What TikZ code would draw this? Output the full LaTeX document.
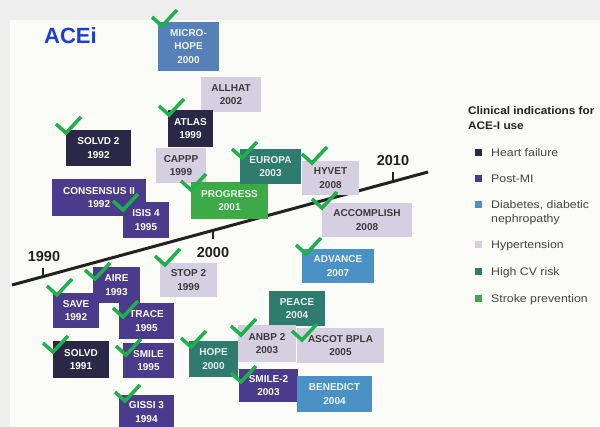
\documentclass[tikz,border=0pt]{standalone}
\usepackage{fontspec}
\setmainfont{Liberation Sans}
\newfontfamily\legfont[FakeStretch=1.12]{Liberation Sans}
\newfontfamily\legtitlefont[FakeStretch=1.07]{Liberation Sans}
\usetikzlibrary{calc}
\definecolor{hfc}{HTML}{2B2746}
\definecolor{mic}{HTML}{4A3B8C}
\definecolor{dbc}{HTML}{4A92C6}
\definecolor{mhc}{HTML}{5580B8}
\definecolor{htc}{HTML}{D6CFE1}
\definecolor{cvc}{HTML}{2F7B6E}
\definecolor{stc}{HTML}{3BAA47}
\definecolor{ckc}{HTML}{1EB04A}
\definecolor{bgc}{HTML}{FBFBF8}
\definecolor{outc}{HTML}{EEEEEE}
\definecolor{acec}{HTML}{1B3FD6}
\definecolor{darktxt}{HTML}{3A3A3A}
\definecolor{linec}{HTML}{222222}
\definecolor{legtxt}{HTML}{444444}
\begin{document}
\begin{tikzpicture}[x=1pt,y=-1pt,
  trial/.style={rectangle, inner sep=0pt, align=center, font=\bfseries\fontsize{10}{13.5}\selectfont},
  sz/.style 2 args={minimum width=#1pt, minimum height=#2pt},
  hf/.style={trial, fill=hfc, text=white},
  mi/.style={trial, fill=mic, text=white},
  db/.style={trial, fill=dbc, text=white!92!dbc},
  mh/.style={trial, fill=mhc, text=white!92!mhc},
  ht/.style={trial, fill=htc, text=darktxt},
  cv/.style={trial, fill=cvc, text=white!90!cvc},
  st/.style={trial, fill=stc, text=white!92!stc},
  tline/.style={draw=linec, line width=3pt},
  tickmark/.style={draw=linec, line width=2pt},
  yr/.style={font=\bfseries\fontsize{14.5}{16}\selectfont, text=linec, inner sep=0pt},
  chkline/.style={draw=ckc, line width=3.5pt, line join=miter},
  chk/.pic={\draw[chkline] (-10,-9) -- (0,0) -- (15,-16);},
  lsq/.style={rectangle, inner sep=0pt, minimum size=7pt},
  ltxt/.style={anchor=base west, inner sep=0pt, text=legtxt, font=\legfont\fontsize{11}{14}\selectfont, align=left},
  ltitle/.style={anchor=base west, inner sep=0pt, text=linec, font=\legtitlefont\bfseries\fontsize{11}{14}\selectfont}
]
\useasboundingbox (0,0) rectangle (600,427);
\fill[outc] (0,0) rectangle (600,427);
\fill[bgc] (10,20) rectangle (600,427);

% title
\node[font=\bfseries\fontsize{22}{24}\selectfont, text=acec, inner sep=0pt] (title) at (70.5,36) {ACEi};

% timeline
\coordinate (t0) at (12,285);
\coordinate (t1) at (428,172);
\draw[tline] (t0) -- (t1);
\coordinate (k1990) at ($(t0)!0.0745!(t1)$);
\coordinate (k2000) at ($(t0)!0.483!(t1)$);
\coordinate (k2010) at ($(t0)!0.916!(t1)$);
\draw[tickmark] (k1990) -- ++(0,-9);
\draw[tickmark] (k2000) -- ++(0,9);
\draw[tickmark] (k2010) -- ++(0,-9);
\node[yr] (y1990) at (44,257) {1990};
\node[yr] (y2000) at (213,253) {2000};
\node[yr] (y2010) at (393,161) {2010};

% trials
\node[mh, sz={61}{49}] (microhope) at (188.5,46.5) {MICRO-\\HOPE\\2000};
\node[ht, sz={60}{35}] (allhat) at (231,94.5) {ALLHAT\\2002};
\node[hf, sz={45}{37}] (atlas) at (190.5,128.5) {ATLAS\\1999};
\node[hf, sz={65}{36}] (solvd2) at (98.5,148) {SOLVD 2\\1992};
\node[mi, sz={94}{37}] (consensus) at (99,197.5) {CONSENSUS II\\1992};
\node[mi, sz={46}{36}] (isis) at (146,220) {ISIS 4\\1995};
\node[ht, sz={50}{35}] (cappp) at (181,165.5) {CAPPP\\1999};
\node[st, sz={77}{37}] (progress) at (229.5,200.5) {PROGRESS\\2001};
\node[cv, sz={61}{35}] (europa) at (270.5,166.5) {EUROPA\\2003};
\node[ht, sz={57}{34}] (hyvet) at (330.5,178) {HYVET\\2008};
\node[ht, sz={90}{34}] (accomplish) at (367,220) {ACCOMPLISH\\2008};
\node[db, sz={72}{34}] (advance) at (338,266) {ADVANCE\\2007};
\node[ht, sz={57}{34}] (stop2) at (188.5,280) {STOP 2\\1999};
\node[mi, sz={47}{36}] (aire) at (116.5,285) {AIRE\\1993};
\node[mi, sz={46}{35}] (save) at (76,310.5) {SAVE\\1992};
\node[mi, sz={55}{36}] (trace) at (146.5,321) {TRACE\\1995};
\node[hf, sz={56}{37}] (solvd) at (81,359.5) {SOLVD\\1991};
\node[mi, sz={51}{35}] (smile) at (148.5,360.5) {SMILE\\1995};
\node[mi, sz={55}{34}] (gissi) at (146.5,412) {GISSI 3\\1994};
\node[cv, sz={49}{36}] (hope) at (213.5,359) {HOPE\\2000};
\node[cv, sz={56}{35}] (peace) at (297,308.5) {PEACE\\2004};
\node[ht, sz={58}{37}] (anbp) at (267,343.5) {ANBP 2\\2003};
\node[ht, sz={87}{35}] (ascot) at (340.5,345.5) {ASCOT BPLA\\2005};
\node[mi, sz={59}{33}] (smile2) at (268.5,385.5) {SMILE-2\\2003};
\node[db, sz={75}{36}] (benedict) at (334.5,394) {BENEDICT\\2004};

% check marks
\pic at (162,26) {chk};
\pic at (169,115) {chk};
\pic at (66,133) {chk};
\pic at (123,210) {chk};
\pic at (191,190) {chk};
\pic at (242,158) {chk};
\pic at (312,163) {chk};
\pic at (322,208) {chk};
\pic at (306,254) {chk};
\pic at (165,265) {chk};
\pic at (95,279) {chk};
\pic at (57,295) {chk};
\pic at (123,317) {chk};
\pic at (53,352) {chk};
\pic at (126,355) {chk};
\pic at (125,401) {chk};
\pic at (191,347) {chk};
\pic at (241,335) {chk};
\pic at (302,340) {chk};
\pic at (241,382) {chk};

% legend
\node[ltitle] (lt1) at (468,115) {Clinical indications for};
\node[ltitle] (lt2) at (468,130) {ACE-I use};
\node[lsq, fill=hfc] (s1) at (478.5,153) {};
\node[ltxt] (l1) at (491,157) {Heart failure};
\node[lsq, fill=mic] (s2) at (478.5,179) {};
\node[ltxt] (l2) at (491,183) {Post-MI};
\node[lsq, fill=dbc] (s3) at (478.5,205) {};
\node[ltxt] (l3) at (491,209) {Diabetes, diabetic};
\node[ltxt] (l3b) at (491,223) {nephropathy};
\node[lsq, fill=htc] (s4) at (478.5,245) {};
\node[ltxt] (l4) at (491,249) {Hypertension};
\node[lsq, fill=cvc] (s5) at (478.5,272) {};
\node[ltxt] (l5) at (491,276) {High CV risk};
\node[lsq, fill=stc] (s6) at (478.5,299) {};
\node[ltxt] (l6) at (491,303) {Stroke prevention};
\end{tikzpicture}
\end{document}
